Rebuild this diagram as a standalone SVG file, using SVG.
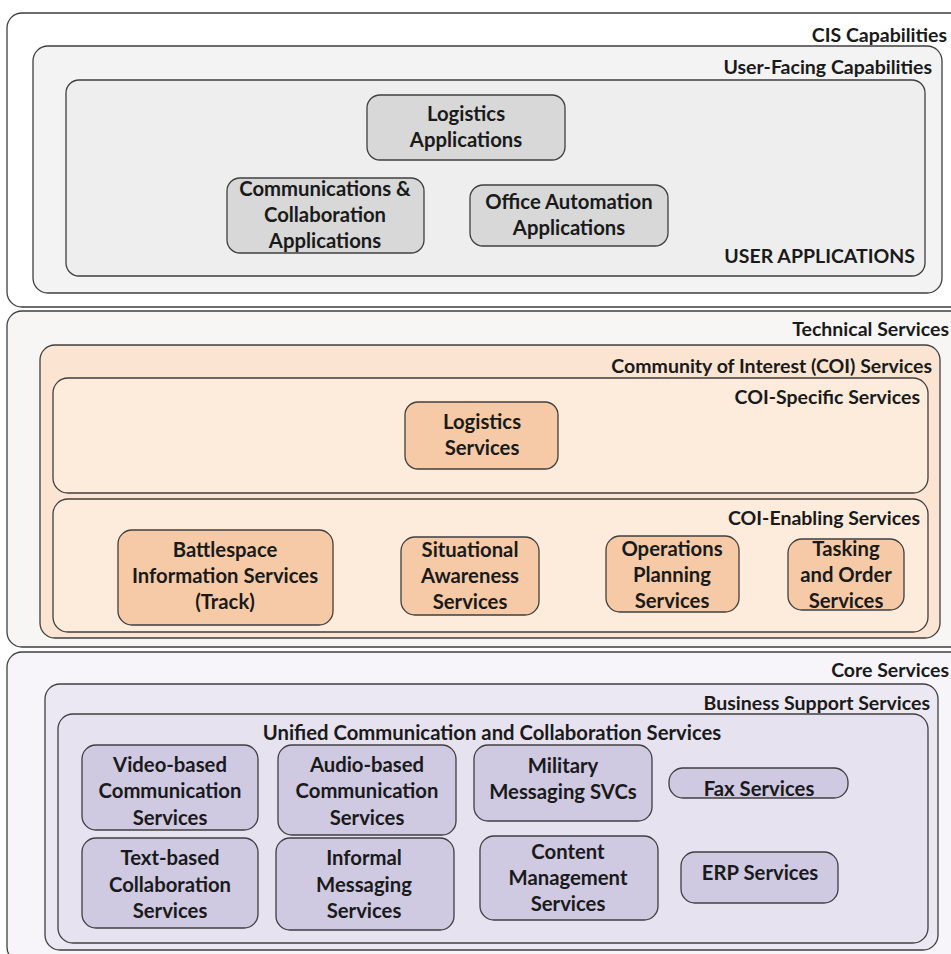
<svg xmlns="http://www.w3.org/2000/svg" width="951" height="954" viewBox="0 0 951 954">
<style>
text{font-family:Lato,"Liberation Sans",sans-serif;font-weight:bold;fill:#1a1a1a}
.lbl{font-size:19.5px;text-anchor:end}
.n{font-size:20.3px;text-anchor:middle}
.box{stroke:#3f3f3f;stroke-width:1.3}
.g1{fill:#ffffff}.g2{fill:#f3f3f3}.g3{fill:#eeeeee}.gn{fill:#d8d8d8}
.o1{fill:#f8f6f4}.o2{fill:#fbe4d2}.o3{fill:#fdebdc}.on{fill:#f6caa6}
.p1{fill:#f7f5fa}.p2{fill:#ece8f3}.p3{fill:#e7e2f0}.pn{fill:#cfc9e2}
</style>
<rect width="951" height="954" fill="#ffffff"/>
<g id="cis-capabilities">
<rect class="box g1" x="7" y="13" width="960" height="294" rx="15"/>
<text class="lbl" x="947" y="42">CIS Capabilities</text>
</g>
<g id="user-facing-capabilities">
<rect class="box g2" x="33" y="46" width="909" height="247" rx="15"/>
<text class="lbl" x="932" y="74">User-Facing Capabilities</text>
</g>
<g id="user-applications">
<rect class="box g3" x="66" y="80" width="859" height="196" rx="13"/>
<text class="lbl" x="915" y="263">USER APPLICATIONS</text>
</g>
<g id="logistics-applications">
<rect class="box gn" x="367" y="95" width="198" height="65" rx="13"/>
<text class="n" x="466" y="121">Logistics</text>
<text class="n" x="466" y="147">Applications</text>
</g>
<g id="comms-collab-applications">
<rect class="box gn" x="227" y="178" width="197" height="75" rx="13"/>
<text class="n" x="325" y="196">Communications &amp;</text>
<text class="n" x="325" y="222">Collaboration</text>
<text class="n" x="325" y="248">Applications</text>
</g>
<g id="office-automation-applications">
<rect class="box gn" x="470" y="185" width="198" height="61" rx="13"/>
<text class="n" x="569" y="209">Office Automation</text>
<text class="n" x="569" y="235">Applications</text>
</g>

<g id="technical-services">
<rect class="box o1" x="7" y="311" width="960" height="336" rx="15"/>
<text class="lbl" x="949" y="336">Technical Services</text>
</g>
<g id="coi-services">
<rect class="box o2" x="40" y="345" width="900" height="293" rx="15"/>
<text class="lbl" x="932" y="373">Community of Interest (COI) Services</text>
</g>
<g id="coi-specific-services">
<rect class="box o3" x="53" y="378" width="875" height="115" rx="15"/>
<text class="lbl" x="920" y="404">COI-Specific Services</text>
</g>
<g id="logistics-services">
<rect class="box on" x="405" y="402" width="153" height="67" rx="13"/>
<text class="n" x="482" y="429">Logistics</text>
<text class="n" x="482" y="455">Services</text>
</g>
<g id="coi-enabling-services">
<rect class="box o3" x="53" y="499" width="875" height="133" rx="15"/>
<text class="lbl" x="920" y="525">COI-Enabling Services</text>
</g>
<g id="battlespace-information-services">
<rect class="box on" x="118" y="530" width="215" height="95" rx="14"/>
<text class="n" x="225" y="557">Battlespace</text>
<text class="n" x="225" y="583">Information Services</text>
<text class="n" x="225" y="609">(Track)</text>
</g>
<g id="situational-awareness-services">
<rect class="box on" x="401" y="537" width="138" height="78" rx="14"/>
<text class="n" x="470" y="557">Situational</text>
<text class="n" x="470" y="583">Awareness</text>
<text class="n" x="470" y="609">Services</text>
</g>
<g id="operations-planning-services">
<rect class="box on" x="606" y="536" width="133" height="76" rx="14"/>
<text class="n" x="672" y="556">Operations</text>
<text class="n" x="672" y="582">Planning</text>
<text class="n" x="672" y="608">Services</text>
</g>
<g id="tasking-and-order-services">
<rect class="box on" x="788" y="539" width="116" height="71" rx="14"/>
<text class="n" x="846" y="556">Tasking</text>
<text class="n" x="846" y="582">and Order</text>
<text class="n" x="846" y="608">Services</text>
</g>

<g id="core-services">
<rect class="box p1" x="7" y="652" width="960" height="310" rx="15"/>
<text class="lbl" x="949" y="677">Core Services</text>
</g>
<g id="business-support-services">
<rect class="box p2" x="45" y="684" width="893" height="266" rx="15"/>
<text class="lbl" x="930" y="710">Business Support Services</text>
</g>
<g id="unified-communication-collaboration-services">
<rect class="box p3" x="58" y="714" width="870" height="229" rx="15"/>
<text class="n" x="492" y="740">Unified Communication and Collaboration Services</text>
</g>
<g id="video-based-communication-services">
<rect class="box pn" x="82" y="745" width="176" height="85" rx="14"/>
<text class="n" x="170" y="772">Video-based</text>
<text class="n" x="170" y="798">Communication</text>
<text class="n" x="170" y="825">Services</text>
</g>
<g id="audio-based-communication-services">
<rect class="box pn" x="278" y="745" width="178" height="90" rx="14"/>
<text class="n" x="367" y="772">Audio-based</text>
<text class="n" x="367" y="798">Communication</text>
<text class="n" x="367" y="825">Services</text>
</g>
<g id="military-messaging-svcs">
<rect class="box pn" x="474" y="745" width="178" height="76" rx="14"/>
<text class="n" x="563" y="773">Military</text>
<text class="n" x="563" y="799">Messaging SVCs</text>
</g>
<g id="fax-services">
<rect class="box pn" x="669" y="768" width="179" height="30" rx="14"/>
<text class="n" x="759" y="796">Fax Services</text>
</g>
<g id="text-based-collaboration-services">
<rect class="box pn" x="82" y="838" width="176" height="90" rx="14"/>
<text class="n" x="170" y="865">Text-based</text>
<text class="n" x="170" y="892">Collaboration</text>
<text class="n" x="170" y="918">Services</text>
</g>
<g id="informal-messaging-services">
<rect class="box pn" x="276" y="838" width="178" height="92" rx="14"/>
<text class="n" x="364" y="865">Informal</text>
<text class="n" x="364" y="892">Messaging</text>
<text class="n" x="364" y="918">Services</text>
</g>
<g id="content-management-services">
<rect class="box pn" x="480" y="836" width="178" height="84" rx="14"/>
<text class="n" x="568" y="859">Content</text>
<text class="n" x="568" y="885">Management</text>
<text class="n" x="568" y="911">Services</text>
</g>
<g id="erp-services">
<rect class="box pn" x="681" y="852" width="157" height="51" rx="14"/>
<text class="n" x="760" y="880">ERP Services</text>
</g>
<g id="connectors"></g>
</svg>
